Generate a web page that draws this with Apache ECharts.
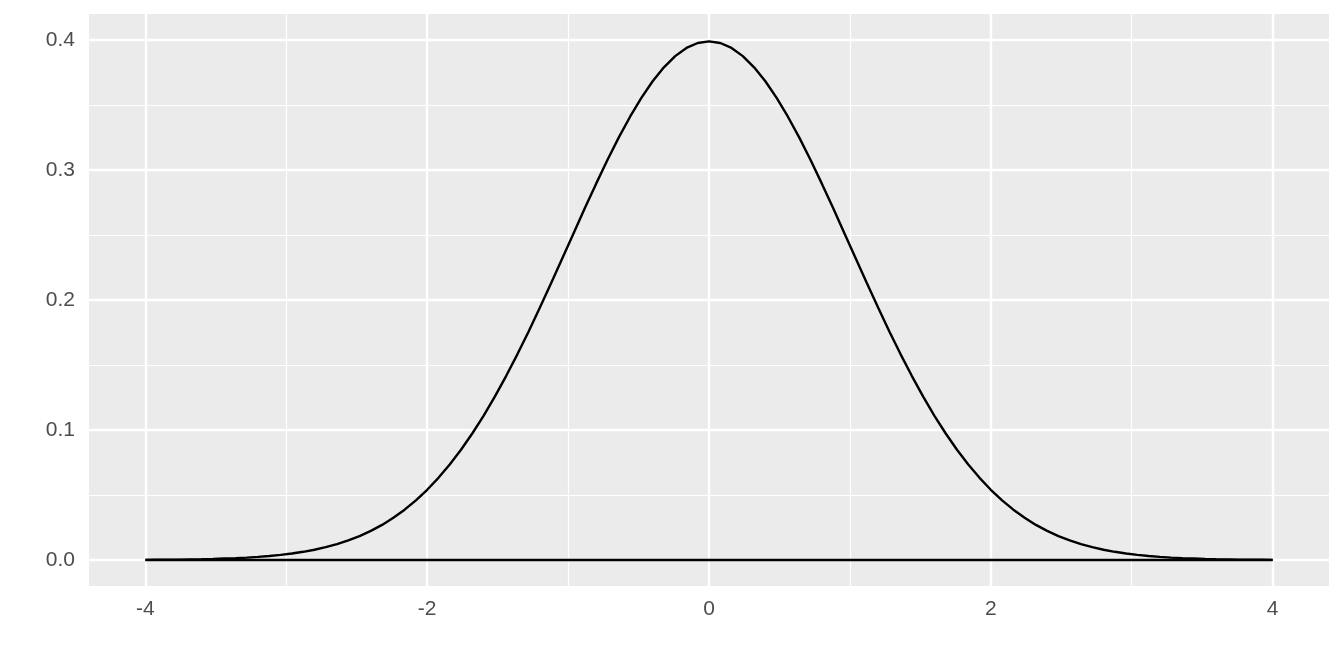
<!DOCTYPE html>
<html>
<head>
<meta charset="utf-8">
<script src="https://cdn.jsdelivr.net/npm/echarts@6/dist/echarts.min.js"></script>
<style>html,body{margin:0;padding:0;background:#fff}#c{width:1344px;height:672px}</style>
</head>
<body>
<div id="c"></div>
<script>
var xs = [-4,-3.92,-3.84,-3.76,-3.68,-3.6,-3.52,-3.44,-3.36,-3.28,-3.2,-3.12,-3.04,-2.96,-2.88,-2.8,-2.72,-2.64,-2.56,-2.48,-2.4,-2.32,-2.24,-2.16,-2.08,-2,-1.92,-1.84,-1.76,-1.68,-1.6,-1.52,-1.44,-1.36,-1.28,-1.2,-1.12,-1.04,-0.96,-0.88,-0.8,-0.72,-0.64,-0.56,-0.48,-0.4,-0.32,-0.24,-0.16,-0.08,0,0.08,0.16,0.24,0.32,0.4,0.48,0.56,0.64,0.72,0.8,0.88,0.96,1.04,1.12,1.2,1.28,1.36,1.44,1.52,1.6,1.68,1.76,1.84,1.92,2,2.08,2.16,2.24,2.32,2.4,2.48,2.56,2.64,2.72,2.8,2.88,2.96,3.04,3.12,3.2,3.28,3.36,3.44,3.52,3.6,3.68,3.76,3.84,3.92,4];
var density = [0.0001,0.0002,0.0003,0.0003,0.0005,0.0006,0.0008,0.0011,0.0014,0.0018,0.0024,0.0031,0.0039,0.0050,0.0063,0.0079,0.0099,0.0122,0.0151,0.0184,0.0224,0.0270,0.0325,0.0387,0.0459,0.0540,0.0632,0.0734,0.0848,0.0973,0.1109,0.1257,0.1415,0.1582,0.1758,0.1942,0.2131,0.2323,0.2516,0.2709,0.2897,0.3079,0.3251,0.3410,0.3555,0.3683,0.3790,0.3876,0.3939,0.3977,0.3989,0.3977,0.3939,0.3876,0.3790,0.3683,0.3555,0.3410,0.3251,0.3079,0.2897,0.2709,0.2516,0.2323,0.2131,0.1942,0.1758,0.1582,0.1415,0.1257,0.1109,0.0973,0.0848,0.0734,0.0632,0.0540,0.0459,0.0387,0.0325,0.0270,0.0224,0.0184,0.0151,0.0122,0.0099,0.0079,0.0063,0.0050,0.0039,0.0031,0.0024,0.0018,0.0014,0.0011,0.0008,0.0006,0.0005,0.0003,0.0003,0.0002,0.0001];
var baselineX = [-4, 4];
var baselineY = [0, 0];
var xTicks = [-4, -2, 0, 2, 4];
var xMinor = [-3, -1, 1, 3];
var yTicks = [0, 0.1, 0.2, 0.3, 0.4];
var yMinor = [0.05, 0.15, 0.25, 0.35];

var FONT = '"Liberation Sans Narrow", "Liberation Sans", Arial, sans-serif';
var chart = echarts.init(document.getElementById('c'), null, {renderer: 'canvas'});

var gridLines = [];
xMinor.forEach(function (v) { gridLines.push({xAxis: v, lineStyle: {width: 1.2}}); });
yMinor.forEach(function (v) { gridLines.push({yAxis: v, lineStyle: {width: 1.2}}); });
xTicks.forEach(function (v) { gridLines.push({xAxis: v, lineStyle: {width: 2.4}}); });
yTicks.forEach(function (v) { gridLines.push({yAxis: v, lineStyle: {width: 2.4}}); });

chart.setOption({
  animation: false,
  backgroundColor: '#ffffff',
  grid: {left: 89, right: 15, top: 14, bottom: 86, show: true, backgroundColor: '#EBEBEB', borderWidth: 0},
  xAxis: {
    type: 'value', min: -4.4, max: 4.4,
    axisLine: {show: false},
    splitLine: {show: false},
    axisTick: {show: true, customValues: xTicks, length: 7, lineStyle: {color: '#333333', width: 2}},
    axisLabel: {customValues: xTicks, margin: 13, color: '#4D4D4D', fontSize: 21, fontFamily: FONT,
      formatter: function (v) { return String(v); }}
  },
  yAxis: {
    type: 'value', min: -0.02, max: 0.42,
    axisLine: {show: false},
    splitLine: {show: false},
    axisTick: {show: true, customValues: yTicks, length: 7, lineStyle: {color: '#333333', width: 2}},
    axisLabel: {customValues: yTicks, margin: 14, color: '#4D4D4D', fontSize: 21, fontFamily: FONT,
      formatter: function (v) { return v.toFixed(1); }}
  },
  series: [
    {
      type: 'line', data: [], silent: true, z: 1, zlevel: 0,
      markLine: {silent: true, symbol: ['none', 'none'], label: {show: false},
        lineStyle: {color: '#ffffff', type: 'solid'}, data: gridLines, animation: false}
    },
    {
      type: 'line', zlevel: 1, z: 3, showSymbol: false, symbol: 'none', silent: true,
      data: baselineX.map(function (x, i) { return [x, baselineY[i]]; }),
      lineStyle: {color: '#000000', width: 2.4}
    },
    {
      type: 'line', zlevel: 1, z: 3, showSymbol: false, symbol: 'none', silent: true,
      data: xs.map(function (x, i) { return [x, density[i]]; }),
      lineStyle: {color: '#000000', width: 2.4}
    }
  ]
});
</script>
</body>
</html>
